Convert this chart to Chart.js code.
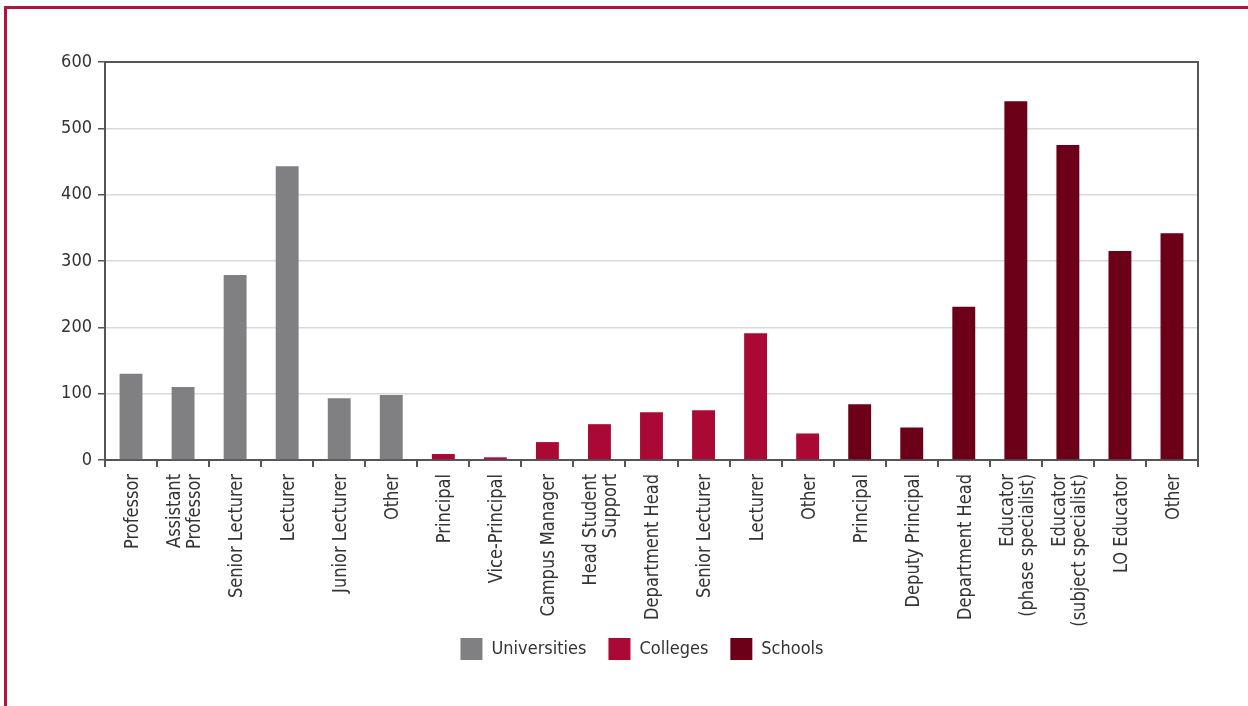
<!DOCTYPE html>
<html>
<head>
<meta charset="utf-8">
<script src="https://cdn.jsdelivr.net/npm/chart.js@4/dist/chart.umd.min.js"></script>
<style>
    body { margin: 0; background: #fff; }
    #wrap { position: relative; width: 1248px; height: 706px; overflow: hidden; }
    #frameTop { position: absolute; left: 4px; right: 0; top: 6px; height: 3px; background: #b3123f; }
    #frameLeft { position: absolute; left: 4px; top: 6px; bottom: 0; width: 3px; background: #b3123f; }
    canvas { position: absolute; left: 0; top: 0; }
</style>
</head>
<body>
<div id="wrap">
    <div id="frameTop"></div>
    <div id="frameLeft"></div>
    <canvas id="staffChart" width="1248" height="706"></canvas>
</div>

<script>
// =========================
// DATA
// =========================
const universityLabels = [["Professor"], ["Assistant", "Professor"], ["Senior Lecturer"], ["Lecturer"], ["Junior Lecturer"], ["Other"]];
const collegeLabels = [["Principal"], ["Vice-Principal"], ["Campus Manager"], ["Head Student", "Support"], ["Department Head"], ["Senior Lecturer"], ["Lecturer"], ["Other"]];
const schoolLabels = [["Principal"], ["Deputy Principal"], ["Department Head"], ["Educator", "(phase specialist)"], ["Educator", "(subject specialist)"], ["LO Educator"], ["Other"]];

const universityValues = [130, 110, 279, 443, 93, 98];
const collegeValues = [9, 4, 27, 54, 72, 75, 191, 40];
const schoolValues = [84, 49, 231, 541, 475, 315, 342];

const yTicks = [0, 100, 200, 300, 400, 500, 600];

const categories = [...universityLabels, ...collegeLabels, ...schoolLabels];

// each group only fills its own slots, the rest stays empty
function padSeries(values, before, after) {
    return [...Array(before).fill(null), ...values, ...Array(after).fill(null)];
}

const FONT = "'DejaVu Sans Condensed', 'Liberation Sans', sans-serif";
const TEXT = "#333333";
const AXIS = "#555555";

// dark frame on top and right of the plot
const plotFrame = {
    id: "plotFrame",
    afterDraw(chart) {
        const a = chart.chartArea;
        const c = chart.ctx;
        c.save();
        c.strokeStyle = AXIS;
        c.lineWidth = 2;
        c.beginPath();
        c.moveTo(a.left, a.top);
        c.lineTo(a.right, a.top);
        c.lineTo(a.right, a.bottom);
        c.stroke();
        c.restore();
    }
};

// vertical category labels, multi-line ones centred on the bar
const verticalLabels = {
    id: "verticalLabels",
    afterDraw(chart) {
        const xs = chart.scales.x;
        const c = chart.ctx;
        const lineH = 20;
        c.save();
        c.fillStyle = TEXT;
        c.font = "19px " + FONT;
        c.textAlign = "right";
        c.textBaseline = "middle";
        categories.forEach((lines, i) => {
            const x = xs.getPixelForValue(i) + 2;
            c.save();
            c.translate(x, chart.chartArea.bottom + 14);
            c.rotate(-Math.PI / 2);
            c.scale(0.95, 1);
            lines.forEach((line, j) => {
                c.fillText(line, 0, (j - (lines.length - 1) / 2) * lineH);
            });
            c.restore();
        });
        c.restore();
    }
};

// legend sits centred under the plot area rather than the whole canvas
const legendShift = {
    id: "legendShift",
    afterLayout(chart) {
        if (chart.legend) chart.legend.left = 86;
    }
};

const nU = universityValues.length, nC = collegeValues.length, nS = schoolValues.length;

new Chart(document.getElementById("staffChart"), {
    type: "bar",
    data: {
        labels: categories,
        datasets: [
            { label: "Universities", data: padSeries(universityValues, 0, nC + nS), backgroundColor: "#808083" },
            { label: "Colleges", data: padSeries(collegeValues, nU, nS), backgroundColor: "#aa0835" },
            { label: "Schools", data: padSeries(schoolValues, nU + nC, 0), backgroundColor: "#6b0018" }
        ]
    },
    options: {
        responsive: false,
        animation: false,
        devicePixelRatio: 1,
        datasets: {
            bar: { grouped: false, barPercentage: 0.44, categoryPercentage: 1 }
        },
        layout: { padding: { left: 0, right: 50, top: 62, bottom: 36 } },
        plugins: {
            tooltip: { enabled: false },
            legend: {
                position: "bottom",
                labels: {
                    boxWidth: 22,
                    boxHeight: 22,
                    padding: 22,
                    color: TEXT,
                    font: { family: FONT, size: 18 }
                }
            }
        },
        scales: {
            x: {
                grid: { display: true, drawOnChartArea: false, offset: true, tickColor: AXIS, tickLength: 7, lineWidth: 2 },
                border: { color: AXIS, width: 2 },
                ticks: { display: false },
                afterFit(scale) { scale.height = 156; }
            },
            y: {
                min: 0,
                max: 600,
                afterBuildTicks(scale) { scale.ticks = yTicks.map(v => ({ value: v })); },
                grid: { color: "#d9d9d9", lineWidth: 1.5, tickColor: AXIS, tickLength: 7 },
                border: { color: AXIS, width: 2 },
                ticks: { padding: 6, color: TEXT, font: { family: FONT, size: 18 } },
                afterFit(scale) { scale.width = 105; }
            }
        }
    },
    plugins: [plotFrame, verticalLabels, legendShift]
});
</script>
</body>
</html>
